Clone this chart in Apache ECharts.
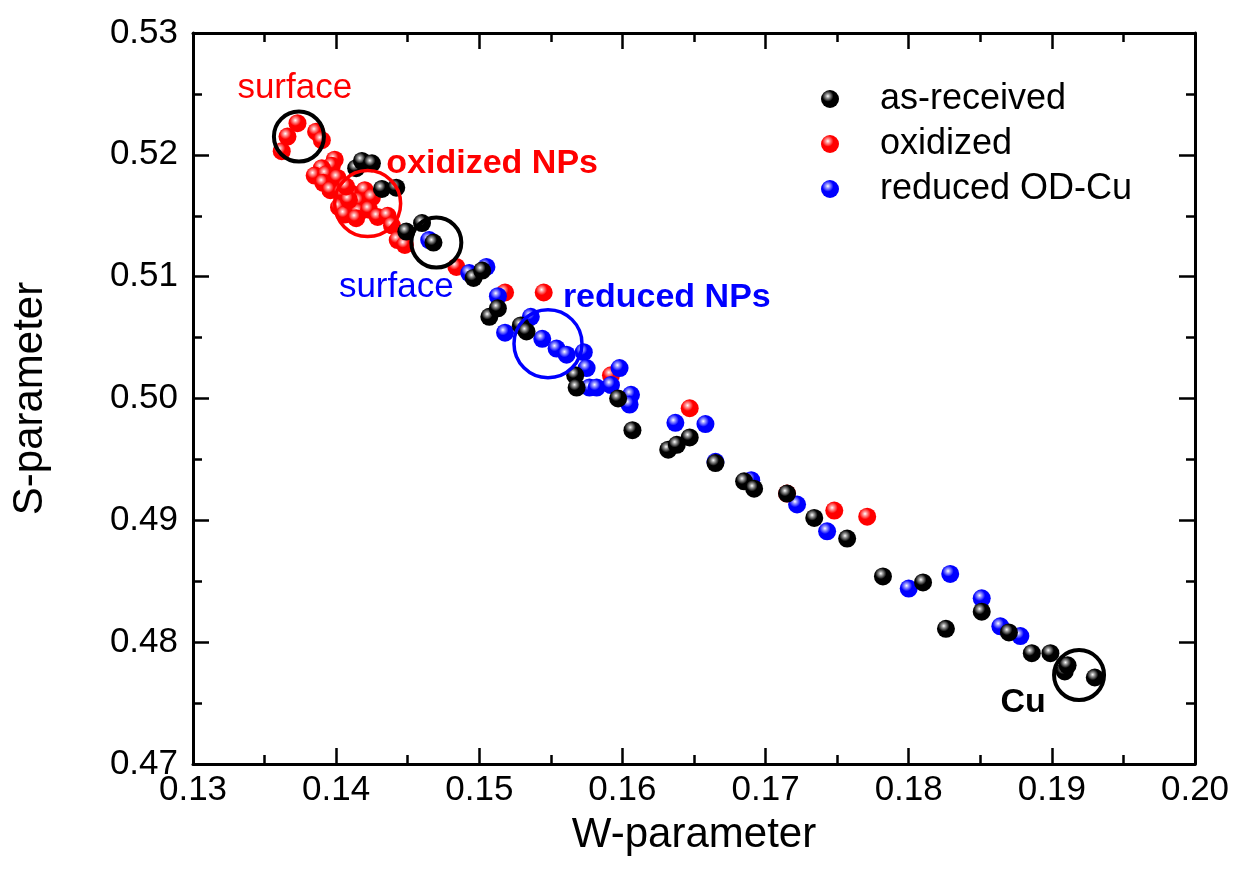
<!DOCTYPE html>
<html>
<head>
<meta charset="utf-8">
<script src="https://cdn.jsdelivr.net/npm/echarts@6/dist/echarts.min.js"></script>
<style>html,body{margin:0;padding:0;background:#fff}#c{width:1236px;height:891px}</style>
</head>
<body>
<div id="c"></div>
<script>
// ---- data ----
const asReceived = [[0.1414,0.5189],[0.1418,0.5195],[0.1425,0.5193],[0.1432,0.5172],[0.1442,0.5173],[0.1449,0.5137],[0.1460,0.5144],[0.1468,0.5128],[0.1496,0.5099],[0.1502,0.5105],[0.1507,0.5067],[0.1513,0.5074],[0.1529,0.5060],[0.1533,0.5055],[0.1567,0.5019],[0.1568,0.5009],[0.1597,0.5000],[0.1607,0.4974],[0.1632,0.4958],[0.1638,0.4962],[0.1647,0.4968],[0.1665,0.4947],[0.1685,0.4932],[0.1692,0.4926],[0.1715,0.4922],[0.1734,0.4902],[0.1757,0.4885],[0.1782,0.4854],[0.1810,0.4849],[0.1826,0.4811],[0.1851,0.4825],[0.1870,0.4808],[0.1886,0.4791],[0.1899,0.4791],[0.1909,0.4776],[0.1911,0.4781],[0.1930,0.4771]];
const oxidized = [[0.1362,0.5203],[0.1366,0.5215],[0.1373,0.5226],[0.1386,0.5219],[0.1390,0.5212],[0.1399,0.5196],[0.1397,0.5191],[0.1390,0.5189],[0.1385,0.5183],[0.1393,0.5184],[0.1401,0.5181],[0.1391,0.5177],[0.1396,0.5171],[0.1404,0.5169],[0.1411,0.5168],[0.1420,0.5171],[0.1416,0.5162],[0.1425,0.5165],[0.1402,0.5157],[0.1406,0.5151],[0.1416,0.5153],[0.1423,0.5155],[0.1429,0.5149],[0.1436,0.5150],[0.1439,0.5142],[0.1443,0.5130],[0.1448,0.5126],[0.1409,0.5163],[0.1414,0.5148],[0.1407,0.5174],[0.1484,0.5108],[0.1518,0.5087],[0.1545,0.5087],[0.1592,0.5019],[0.1647,0.4992],[0.1715,0.4922],[0.1748,0.4908],[0.1771,0.4903]];
const reducedODCu = [[0.1465,0.5130],[0.1493,0.5103],[0.1505,0.5108],[0.1513,0.5084],[0.1518,0.5054],[0.1536,0.5067],[0.1544,0.5049],[0.1554,0.5041],[0.1561,0.5036],[0.1573,0.5038],[0.1575,0.5025],[0.1577,0.5009],[0.1582,0.5009],[0.1592,0.5011],[0.1598,0.5025],[0.1606,0.5003],[0.1605,0.4995],[0.1637,0.4980],[0.1658,0.4979],[0.1665,0.4948],[0.1690,0.4933],[0.1722,0.4913],[0.1743,0.4891],[0.1800,0.4844],[0.1829,0.4856],[0.1851,0.4836],[0.1864,0.4813],[0.1878,0.4805]];
const seriesNames = ['as-received','oxidized','reduced OD-Cu'];
const blackRings = [[0.1374,0.5215],[0.1470,0.5128],[0.1919,0.4773]];
const redRings = [[0.1422,0.5160]];
const blueRings = [[0.1548,0.5045]];
const annotations = [
  {text:'surface', pos:[0.13711,0.52549], color:'#ff0000', bold:false},
  {text:'oxidized NPs', pos:[0.1509,0.5193], color:'#ff0000', bold:true},
  {text:'surface', pos:[0.1442,0.5091], color:'#0000ff', bold:false},
  {text:'reduced NPs', pos:[0.1631,0.5083], color:'#0000ff', bold:true},
  {text:'Cu', pos:[0.1880,0.4750], color:'#000000', bold:true}
];
const xTicks = {min:0.13, max:0.20, interval:0.01};
const yTicks = {min:0.47, max:0.53, interval:0.01};

// ---- styles ----
const FONT = 'Liberation Sans, Arial, sans-serif';
function ball(base, mid){
  return {type:'radial', x:0.38, y:0.34, r:0.62, colorStops:[
    {offset:0, color:'#ffffff'},
    {offset:0.18, color:mid},
    {offset:0.5, color:base},
    {offset:1, color:base}
  ]};
}
const colors = [ball('#000000','#9a9a9a'), ball('#ff0000','#ff9a9a'), ball('#0000ff','#9a9aff')];
const zs = [6,4,5];
const dataSets = [asReceived, oxidized, reducedODCu];

const axisLine = {show:true, onZero:false, lineStyle:{color:'#000', width:3}};
function xAxisCfg(pos, showLabel){
  return {type:'value', position:pos, min:xTicks.min, max:xTicks.max, interval:xTicks.interval,
    axisLine:axisLine, splitLine:{show:false},
    axisTick:{show:true, inside:true, length:16, lineStyle:{width:2.5,color:'#000'}},
    minorTick:{show:true, splitNumber:2, length:9, lineStyle:{width:2.5,color:'#000'}},
    axisLabel:{show:showLabel, margin:9, color:'#000', fontSize:35, fontFamily:FONT, formatter:v=>v.toFixed(2)},
    name: showLabel ? 'W-parameter' : '', nameLocation:'middle', nameGap:50,
    nameTextStyle:{fontSize:42, fontFamily:FONT, color:'#000'}
  };
}
function yAxisCfg(pos, showLabel){
  return {type:'value', position:pos, min:yTicks.min, max:yTicks.max, interval:yTicks.interval,
    axisLine:axisLine, splitLine:{show:false},
    axisTick:{show:true, inside:true, length:16, lineStyle:{width:2.5,color:'#000'}},
    minorTick:{show:true, splitNumber:2, length:9, lineStyle:{width:2.5,color:'#000'}},
    axisLabel:{show:showLabel, margin:15, color:'#000', fontSize:35, fontFamily:FONT, formatter:v=>v.toFixed(2)},
    name: showLabel ? 'S-parameter' : '', nameLocation:'middle', nameGap:142,
    nameTextStyle:{fontSize:42, fontFamily:FONT, color:'#000'}
  };
}

const series = dataSets.map((d,i)=>({
  name:seriesNames[i], type:'scatter', data:d, symbol:'circle', symbolSize:18,
  itemStyle:{color:colors[i], opacity:1}, z:zs[i], emphasis:{disabled:true}
}));
function ringSeries(data, color, size, width){
  return {type:'scatter', data:data, symbol:'circle', symbolSize:size, z:8, silent:true,
    itemStyle:{color:'rgba(0,0,0,0)', borderColor:color, borderWidth:width, opacity:1}};
}
series.push(ringSeries(blackRings,'#000000',50,4));
series.push(ringSeries(redRings,'#ff0000',66,3.5));
series.push(ringSeries(blueRings,'#0000ff',68,3.5));
series.push({type:'scatter', z:9, silent:true, symbolSize:1, itemStyle:{color:'rgba(0,0,0,0)', opacity:1},
  data: annotations.map(a=>({value:a.pos, label:{show:true, position:'inside', formatter:a.text,
    color:a.color, opacity:1, fontSize: a.bold?34:35, fontWeight: a.bold?'bold':'normal', fontFamily:FONT}}))});

const chart = echarts.init(document.getElementById('c'), null, {renderer:'canvas'});
chart.setOption({
  animation:false,
  backgroundColor:'#fff',
  grid:{left:193, top:33, right:41, bottom:127, containLabel:false},
  xAxis:[xAxisCfg('bottom',true), xAxisCfg('top',false)],
  yAxis:[yAxisCfg('left',true), yAxisCfg('right',false)],
  legend:{data:seriesNames, orient:'vertical', left:816, top:76, itemWidth:18, itemHeight:18, itemGap:9,
    icon:'circle', selectedMode:false,
    textStyle:{fontSize:36, fontFamily:FONT, color:'#000', lineHeight:36, padding:[0,0,0,36]}},
  series:series
});
</script>
</body>
</html>
